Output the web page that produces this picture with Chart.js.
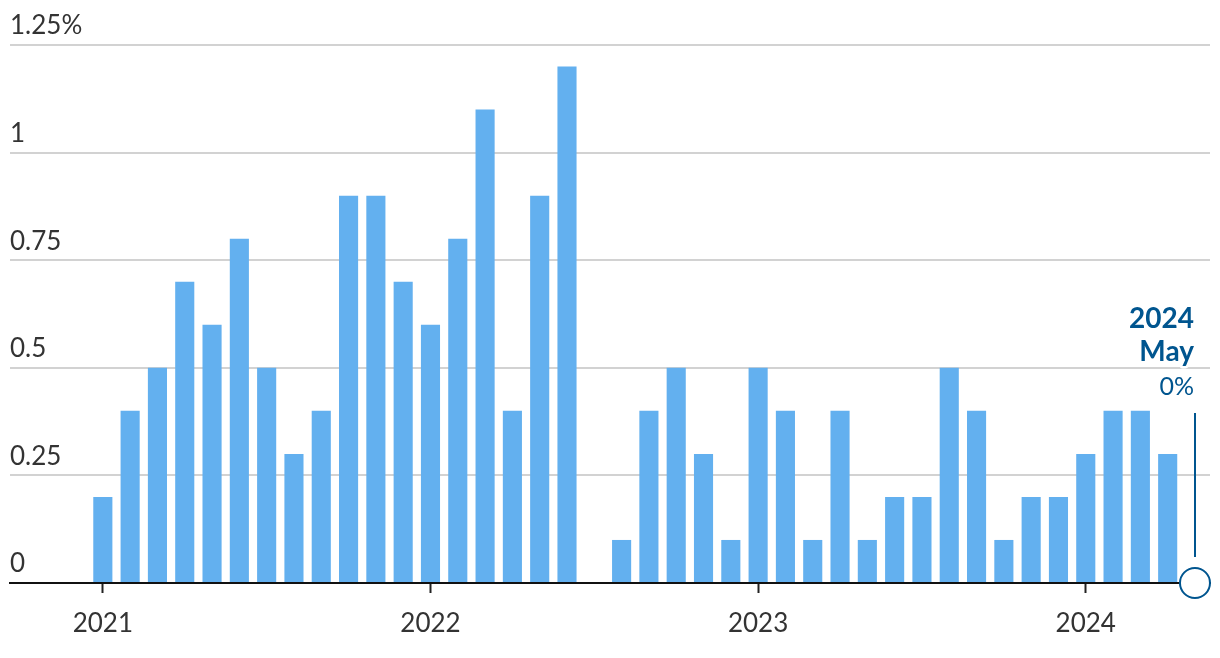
<!DOCTYPE html>
<html>
<head>
<meta charset="utf-8">
<script src="https://cdn.jsdelivr.net/npm/chart.js@4"></script>
<style>
  html, body { margin: 0; padding: 0; background: #fff; }
  #wrap { width: 1220px; height: 658px; }
</style>
</head>
<body>
<div id="wrap"><canvas id="chart" width="1220" height="658"></canvas></div>
<script>
// monthly change, Jan 2021 .. May 2024
const months = [];
for (let y = 2021; y <= 2024; y++) {
    for (let m = 1; m <= 12; m++) {
        if (y === 2024 && m > 5) break;
        months.push(y + '-' + String(m).padStart(2, '0'));
    }
}
const values = [
    0.2, 0.4, 0.5, 0.7, 0.6, 0.8, 0.5, 0.3, 0.4, 0.9, 0.9, 0.7,   // 2021
    0.6, 0.8, 1.1, 0.4, 0.9, 1.2, 0.0, 0.1, 0.4, 0.5, 0.3, 0.1,   // 2022
    0.5, 0.4, 0.1, 0.4, 0.1, 0.2, 0.2, 0.5, 0.4, 0.1, 0.2, 0.2,   // 2023
    0.3, 0.4, 0.4, 0.3, 0.0                                       // 2024
];
const yearTicks = [2021, 2022, 2023, 2024];
const yTicks = [0, 0.25, 0.5, 0.75, 1, 1.25];
const lastLabel = ['2024', 'May', '0%'];

const FONT = 'Lato, "Open Sans", sans-serif';
const DARK = '#00558f';

const points = values.map((v, i) => ({ x: i, y: v }));

// callout for the latest month
const callout = {
    id: 'callout',
    afterDatasetsDraw(chart) {
        const ctx = chart.ctx;
        const xs = chart.scales.x, ys = chart.scales.y;
        const last = values.length - 1;
        const px = xs.getPixelForValue(last);
        const py = ys.getPixelForValue(values[last]);
        ctx.save();
        ctx.textAlign = 'right';
        ctx.textBaseline = 'alphabetic';
        ctx.lineJoin = 'round';
        const rows = [
            { t: lastLabel[0], f: 'bold 28px ' + FONT, y: 328 },
            { t: lastLabel[1], f: 'bold 28px ' + FONT, y: 361 },
            { t: lastLabel[2], f: '25px ' + FONT, y: 395 }
        ];
        rows.forEach(r => {
            ctx.font = r.f;
            ctx.strokeStyle = '#fff';
            ctx.lineWidth = 5;
            ctx.strokeText(r.t, px - 1, r.y);
            ctx.fillStyle = DARK;
            ctx.fillText(r.t, px - 1, r.y);
        });
        ctx.strokeStyle = DARK;
        ctx.lineWidth = 2;
        ctx.beginPath();
        ctx.moveTo(px, 413);
        ctx.lineTo(px, py - 26);
        ctx.stroke();
        ctx.beginPath();
        ctx.arc(px, py, 15, 0, Math.PI * 2);
        ctx.fillStyle = '#fff';
        ctx.fill();
        ctx.stroke();
        ctx.restore();
    }
};

new Chart(document.getElementById('chart'), {
    type: 'bar',
    data: {
        datasets: [{
            data: points,
            backgroundColor: '#63b0ef',
            borderWidth: 0,
            barPercentage: 0.7,
            categoryPercentage: 1
        }]
    },
    options: {
        responsive: false,
        animation: false,
        layout: { padding: { left: 10, right: 10, top: 45, bottom: 0 } },
        plugins: { legend: { display: false }, tooltip: { enabled: false } },
        scales: {
            x: {
                type: 'linear',
                offset: false,
                min: -3.4,
                max: 40.55,
                afterBuildTicks: s => { s.ticks = yearTicks.map(y => ({ value: (y - 2021) * 12 })); },
                afterFit: s => { s.height = 75; },
                grid: {
                    offset: false,
                    drawOnChartArea: false,
                    drawTicks: true,
                    tickLength: 10,
                    tickWidth: 2,
                    tickColor: '#222'
                },
                border: { display: true, color: '#111', width: 2 },
                ticks: {
                    padding: 15,
                    color: '#333',
                    font: { family: FONT, size: 26 },
                    maxRotation: 0,
                    autoSkip: false,
                    callback: v => String(2021 + v / 12)
                }
            },
            y: {
                min: 0,
                max: 1.25,
                afterBuildTicks: s => { s.ticks = yTicks.map(v => ({ value: v })); },
                afterFit: s => { s.width = 0; },
                grid: { color: '#d2d2d2', lineWidth: 2, drawTicks: false },
                border: { display: false },
                ticks: {
                    mirror: true,
                    padding: 0,
                    labelOffset: -19,
                    color: '#333',
                    font: { family: FONT, size: 26 },
                    callback: v => v === 1.25 ? '1.25%' : String(v)
                }
            }
        }
    },
    plugins: [callout]
});
</script>
</body>
</html>
